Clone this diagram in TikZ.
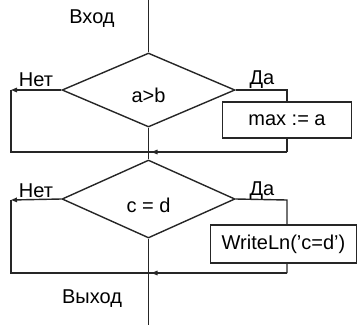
\documentclass[tikz,border=0pt]{standalone}
\usepackage{fontspec}
\setmainfont{Liberation Sans}
\usetikzlibrary{shapes.geometric,arrows.meta,backgrounds}
\begin{document}
\begin{tikzpicture}[x=1pt,y=-1pt,
  every node/.style={font=\fontsize{20}{22}\selectfont},
  ln/.style={line width=1.4pt,draw=black!85},
  dia/.style={ln,diamond,inner sep=0pt,fill=white},
  box/.style={ln,rectangle,fill=white,inner sep=0pt},
  arr/.style={ln,-{Triangle[length=6pt,width=4.5pt]}},
  lbl/.style={inner sep=0pt}]
\useasboundingbox (0,0) rectangle (358,325);
% decisions
\node[dia,minimum width=173pt,minimum height=74pt] (d1) at (148.5,90) {};
\node[lbl] (t1) at (148.5,95) {a>b};
\node[dia,minimum width=173pt,minimum height=78pt] (d2) at (148.5,199) {};
\node[lbl] (t2) at (148.5,205) {c = d};
% actions
\node[box,minimum width=129pt,minimum height=36pt] (b1) at (287,120) {max := a};
\node[box,minimum width=146pt,minimum height=38pt] (b2) at (283.5,244) {WriteLn(’c=d’)};
% labels
\node[lbl] (vh) at (92,19) {Вход};
\node[lbl] (vy) at (92,299) {Выход};
\node[lbl] (n1) at (36,80) {Нет};
\node[lbl] (y1) at (262,80) {Да};
\node[lbl] (n2) at (36,191) {Нет};
\node[lbl] (y2) at (262,191) {Да};
% coordinates
\coordinate (in) at (148.5,0);
\coordinate (out) at (148.5,325);
\coordinate (l1) at (11,90);
\coordinate (m1) at (148.5,152);
\coordinate (r1) at (287,90);
\coordinate (r1b) at (287,152);
\coordinate (l2) at (11,200);
\coordinate (m2) at (148.5,273);
\coordinate (r2) at (287,200);
\coordinate (r2b) at (287,273);
\begin{scope}[on background layer]
\draw[ln] (in) -- (d1.north);
\draw[ln] (d1.south) -- (d2.north);
\draw[ln] (d2.south) -- (out);
\draw[arr] (d1.west) -- (l1);
\draw[ln] (l1) |- (m1);
\draw[ln] (d1.east) -- (r1) -- (r1b);
\draw[arr] (r1b) -- ([xshift=3pt]m1);
\draw[ln] (r1b) -- (m1);
\draw[arr] (d2.west) -- (l2);
\draw[ln] (l2) |- (m2);
\draw[ln] (d2.east) -- (r2) -- (r2b);
\draw[arr] (r2b) -- ([xshift=3pt]m2);
\draw[ln] (r2b) -- (m2);
\end{scope}
\end{tikzpicture}
\end{document}
